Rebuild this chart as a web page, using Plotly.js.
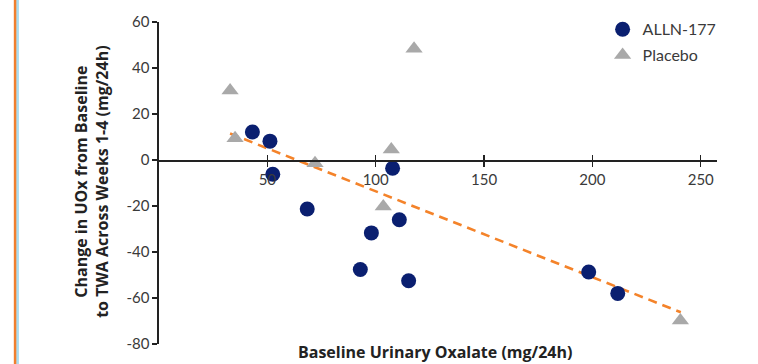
<!DOCTYPE html>
<html>
<head>
<meta charset="utf-8">
<script src="https://cdn.plot.ly/plotly-3.0.1.min.js"></script>
<style>
html,body{margin:0;padding:0;background:#fff;}
#chart{width:758px;height:364px;}
</style>
</head>
<body>
<div id="chart"></div>
<script>
// Data
const allnX = [43.1, 51.2, 52.5, 68.4, 92.9, 98.0, 107.8, 110.9, 115.2, 198.3, 211.7];
const allnY = [12.2, 8.2, -6.2, -21.3, -47.6, -31.7, -3.6, -26.0, -52.5, -48.7, -58.0];
const placeboX = [32.8, 35.1, 72.0, 103.5, 107.2, 117.7, 240.6];
const placeboY = [30.2, 9.5, -1.4, -20.2, 4.6, 48.4, -69.8];
const trendX = [32.8, 240.8];
const trendY = [11.5, -66.2];
const xTicks = [50, 100, 150, 200, 250];
const yTicks = [-80, -60, -40, -20, 0, 20, 40, 60];

const FONT = 'Lato, "Open Sans", sans-serif';
const TFONT = '"Open Sans", Lato, sans-serif';
const TXT = '#3a3a3a';

const traces = [
  {x: trendX, y: trendY, mode: 'lines', showlegend: false, hoverinfo: 'skip',
   line: {color: '#f4832a', width: 2.6, dash: '9px,6px'}},
  {x: allnX, y: allnY, mode: 'markers', name: 'ALLN-177', legendgroup: 'a',
   marker: {symbol: 'circle', size: 15, color: '#0a1f70'}},
  {x: placeboX, y: placeboY, mode: 'markers', name: 'Placebo', legendgroup: 'b',
   marker: {symbol: 'triangle-up', size: 15, color: '#a9a9a9'}}
];

const yMin = -80, yMax = 60;
const layout = {
  width: 758, height: 364,
  margin: {l: 159, r: 41, t: 20, b: 20},
  paper_bgcolor: '#ffffff', plot_bgcolor: 'rgba(0,0,0,0)',
  font: {family: FONT, size: 15, color: TXT},
  showlegend: true,
  legend: {x: 0.795, y: 1.03, xanchor: 'left', yanchor: 'top',
           font: {family: FONT, size: 16, color: TXT}, bgcolor: 'rgba(0,0,0,0)',
           tracegroupgap: 2, itemsizing: 'trace'},
  xaxis: {range: [0, 257.5], tickvals: xTicks, ticktext: xTicks.map(String),
          showgrid: false, zeroline: false, showline: true, linecolor: '#222', linewidth: 1.6,
          ticks: 'outside', ticklen: 5, tickwidth: 1.4, tickcolor: '#222',
          anchor: 'free', position: (0 - yMin) / (yMax - yMin),
          tickfont: {family: FONT, size: 15, color: TXT}},
  xaxis2: {range: [0, 257.5], tickvals: xTicks, overlaying: 'x', showticklabels: false,
           showgrid: false, zeroline: false, showline: false,
           ticks: 'inside', ticklen: 5, tickwidth: 1.4, tickcolor: '#222',
           anchor: 'free', position: (0 - yMin) / (yMax - yMin)},
  yaxis: {range: [yMin, yMax], tickvals: yTicks, ticktext: yTicks.map(String),
          showgrid: false, zeroline: false, showline: true, linecolor: '#222', linewidth: 1.6,
          ticks: 'outside', ticklen: 5, tickwidth: 1.4, tickcolor: '#222',
          tickfont: {family: FONT, size: 15, color: TXT}},
  annotations: [
    {text: '<b>Change in UOx from Baseline</b><br><b>to TWA Across Weeks 1-4 (mg/24h)</b>',
     xref: 'paper', yref: 'paper', x: -0.121, y: 0.505, xanchor: 'center', yanchor: 'middle',
     textangle: -90, showarrow: false, font: {family: TFONT, size: 16, color: '#222'}},
    {text: '<b>Baseline Urinary Oxalate (mg/24h)</b>',
     xref: 'paper', yref: 'paper', x: 0.495, y: -0.025, xanchor: 'center', yanchor: 'middle',
     showarrow: false, font: {family: TFONT, size: 16, color: '#222'}}
  ],
  shapes: [
    {type: 'line', xref: 'paper', yref: 'paper', x0: -0.2575, x1: -0.2575, y0: -0.2, y1: 1.2,
     line: {color: '#f07f2e', width: 3}},
    {type: 'line', xref: 'paper', yref: 'paper', x0: -0.2533, x1: -0.2533, y0: -0.2, y1: 1.2,
     line: {color: '#a8dcf0', width: 2.5}}
  ]
};

// invisible trace to activate xaxis2 (inside ticks crossing the axis)
traces.push({x: [0], y: [0], xaxis: 'x2', mode: 'markers', showlegend: false, hoverinfo: 'skip',
             marker: {opacity: 0}});

Plotly.newPlot('chart', traces, layout, {displayModeBar: false, staticPlot: true});
</script>
</body>
</html>
